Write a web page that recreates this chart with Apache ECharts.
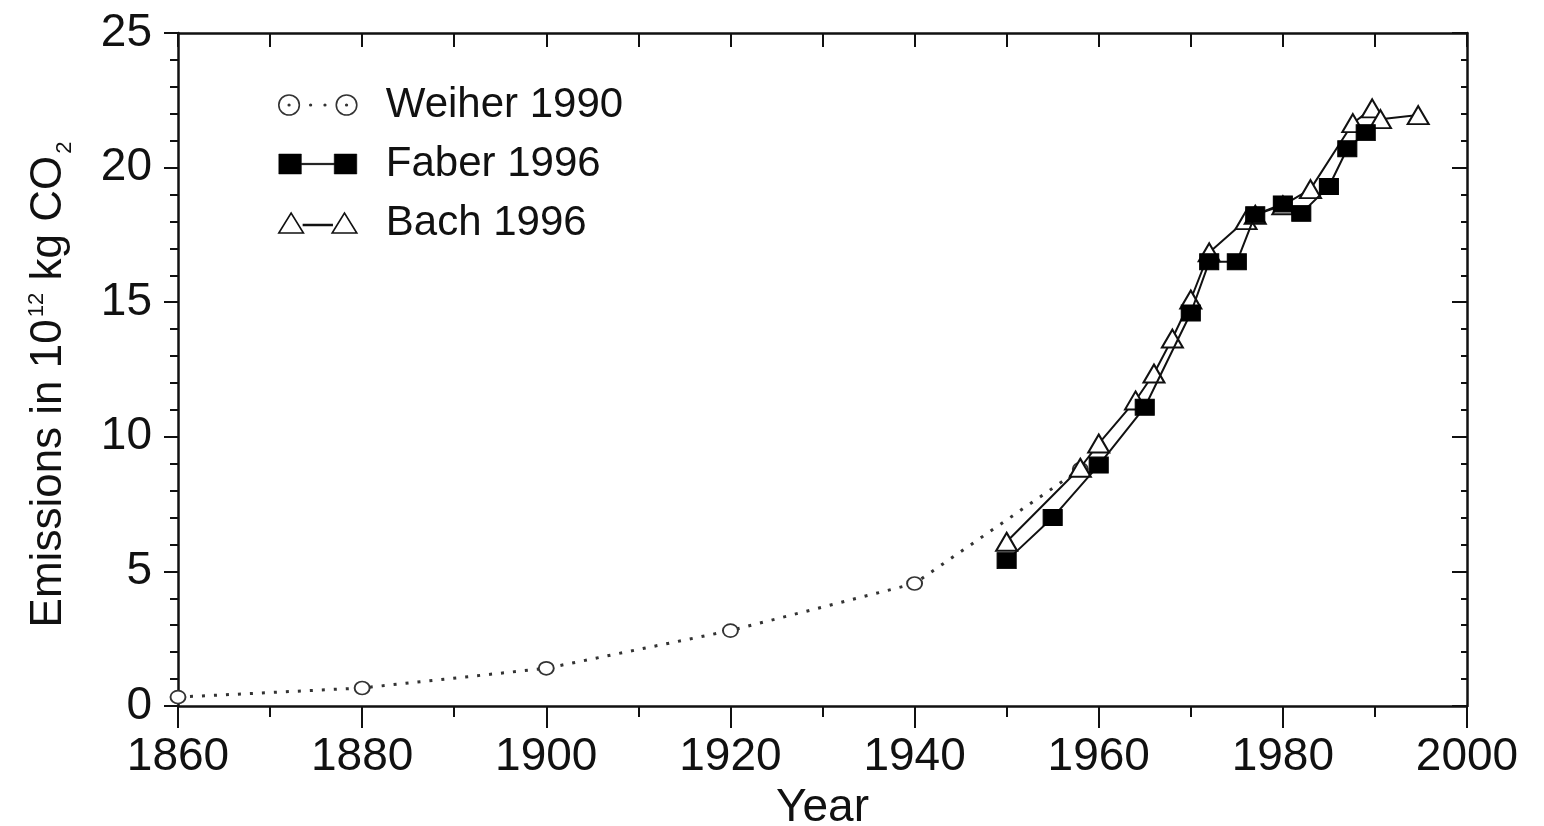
<!DOCTYPE html>
<html>
<head>
<meta charset="utf-8">
<script src="https://cdn.jsdelivr.net/npm/echarts@6/dist/echarts.min.js"></script>
<style>html,body{margin:0;padding:0;background:#fff;}#c{width:1544px;height:826px;}</style>
</head>
<body>
<div id="c"></div>
<script>
// Data
const seriesNames = ['Weiher 1990', 'Faber 1996', 'Bach 1996'];
const weiherYears = [1860, 1880, 1900, 1920, 1940, 1958];
const weiherValues = [0.33, 0.67, 1.4, 2.8, 4.55, 8.8];
const faberYears = [1950, 1955, 1960, 1965, 1970, 1972, 1975, 1977, 1980, 1982, 1985, 1987, 1989];
const faberValues = [5.4, 7.0, 8.95, 11.1, 14.6, 16.5, 16.5, 18.25, 18.65, 18.3, 19.3, 20.7, 21.3];
const bachYears = [1950, 1958, 1960, 1964, 1966, 1968, 1970, 1972, 1976, 1977, 1980, 1983, 1987.6, 1989.7, 1990.6, 1994.7];
const bachValues = [6.1, 8.85, 9.75, 11.35, 12.35, 13.65, 15.1, 16.85, 18.05, 18.25, 18.6, 19.2, 21.65, 22.2, 21.8, 21.95];
const xTickMin = 1860, xTickMax = 2000, xTickStep = 20;
const yTickMin = 0, yTickMax = 25, yTickStep = 5;

const pair = (xs, ys) => xs.map((x, i) => [x, ys[i]]);
const font = "'Liberation Sans', Arial, sans-serif";
const chart = echarts.init(document.getElementById('c'), null, {renderer: 'canvas'});

// legend icons: marker - line - marker
const circ = (cx, cy, r) => `M${cx - r} ${cy} A${r} ${r} 0 1 0 ${cx + r} ${cy} A${r} ${r} 0 1 0 ${cx - r} ${cy} Z `;
const iconWeiher = 'path://' + circ(10, 10, 10) + circ(10, 10, 0.8) + circ(31, 10, 0.8) + circ(45, 10, 0.8) + circ(66, 10, 10) + circ(66, 10, 0.8);
const iconFaber = 'path://M0 0 L22 0 L22 9.3 L54 9.3 L54 0 L76 0 L76 20 L54 20 L54 10.7 L22 10.7 L22 20 L0 20 Z';
const iconBach = 'path://M0 20 L12 0 L24 20 Z M24 11.5 L52 11.5 L52 12.5 L24 12.5 Z M52 20 L64 0 L76 20 Z';

const axisLine = {show: true, onZero: false, lineStyle: {color: '#111', width: 2.5}};
chart.setOption({
  backgroundColor: '#fff',
  animation: false,
  grid: {left: 178, right: 77, top: 33, bottom: 120, outerBoundsMode: 'none', containLabel: false},
  legend: {
    orient: 'vertical', left: 273, top: 79, itemWidth: 78, itemHeight: 20, itemGap: 17,
    symbolKeepAspect: false,
    data: [
      {name: seriesNames[0], icon: iconWeiher, itemStyle: {color: '#fff', borderColor: '#333', borderWidth: 1.6}},
      {name: seriesNames[1], icon: iconFaber, itemStyle: {color: '#000', borderColor: '#000', borderWidth: 0.5}},
      {name: seriesNames[2], icon: iconBach, itemStyle: {color: '#fff', borderColor: '#111', borderWidth: 1.6}}
    ],
    textStyle: {fontFamily: font, fontSize: 42, color: '#111', lineHeight: 40, padding: [0, 0, 0, 24]}
  },
  xAxis: [{
    type: 'value', min: xTickMin, max: xTickMax, interval: xTickStep, position: 'bottom',
    name: 'Year', nameLocation: 'middle', nameGap: 76,
    nameTextStyle: {fontFamily: font, fontSize: 46, color: '#111'},
    axisLine: axisLine,
    axisTick: {show: true, inside: false, length: 22, lineStyle: {color: '#111', width: 2}},
    minorTick: {show: true, splitNumber: 2, length: 11, lineStyle: {color: '#111', width: 2}},
    axisLabel: {fontFamily: font, fontSize: 46, color: '#111', margin: 28, formatter: v => String(v)},
    splitLine: {show: false}
  }, {
    type: 'value', min: xTickMin, max: xTickMax, interval: xTickStep, position: 'top',
    axisLine: axisLine,
    axisTick: {show: true, inside: true, length: 14, lineStyle: {color: '#111', width: 2}},
    minorTick: {show: true, splitNumber: 2, length: 14, lineStyle: {color: '#111', width: 2}},
    axisLabel: {show: false}, splitLine: {show: false}
  }],
  yAxis: [{
    type: 'value', min: yTickMin, max: yTickMax, interval: yTickStep, position: 'left',
    name: 'Emissions in 10{sup|12} kg CO{sub|2}', nameLocation: 'middle', nameGap: 102,
    nameTextStyle: {
      fontFamily: font, fontSize: 44, color: '#111', lineHeight: 54, padding: [0, 30, 0, 0],
      rich: {
        sup: {fontFamily: font, fontSize: 22, color: '#111', verticalAlign: 'top', lineHeight: 54, padding: [4, 0, 0, 2]},
        sub: {fontFamily: font, fontSize: 22, color: '#111', verticalAlign: 'bottom', lineHeight: 54, padding: [0, 0, 0, 2]}
      }
    },
    axisLine: axisLine,
    axisTick: {show: true, inside: false, length: 14, lineStyle: {color: '#111', width: 2}},
    minorTick: {show: true, splitNumber: 5, length: 8, lineStyle: {color: '#111', width: 2}},
    axisLabel: {fontFamily: font, fontSize: 46, color: '#111', margin: 26},
    splitLine: {show: false}
  }, {
    type: 'value', min: yTickMin, max: yTickMax, interval: yTickStep, position: 'right',
    axisLine: axisLine,
    axisTick: {show: true, inside: true, length: 15, lineStyle: {color: '#111', width: 2}},
    minorTick: {show: true, splitNumber: 5, length: 6, lineStyle: {color: '#111', width: 2}},
    axisLabel: {show: false}, splitLine: {show: false}
  }],
  series: [{
    name: seriesNames[0], type: 'line', data: pair(weiherYears, weiherValues),
    symbol: 'circle', symbolSize: [15, 13], showAllSymbol: true,
    lineStyle: {color: '#333', width: 3, type: [3, 9]},
    itemStyle: {color: '#fff', borderColor: '#333', borderWidth: 1.8},
    z: 2
  }, {
    name: seriesNames[2], type: 'line', data: pair(bachYears, bachValues),
    symbol: 'triangle', symbolSize: [21, 18], showAllSymbol: true,
    lineStyle: {color: '#111', width: 2},
    itemStyle: {color: '#fff', borderColor: '#111', borderWidth: 2},
    z: 3
  }, {
    name: seriesNames[1], type: 'line', data: pair(faberYears, faberValues),
    symbol: 'rect', symbolSize: [19, 16], showAllSymbol: true,
    lineStyle: {color: '#111', width: 2},
    itemStyle: {color: '#000', borderColor: '#000', borderWidth: 1},
    z: 4
  }]
});
</script>
</body>
</html>
